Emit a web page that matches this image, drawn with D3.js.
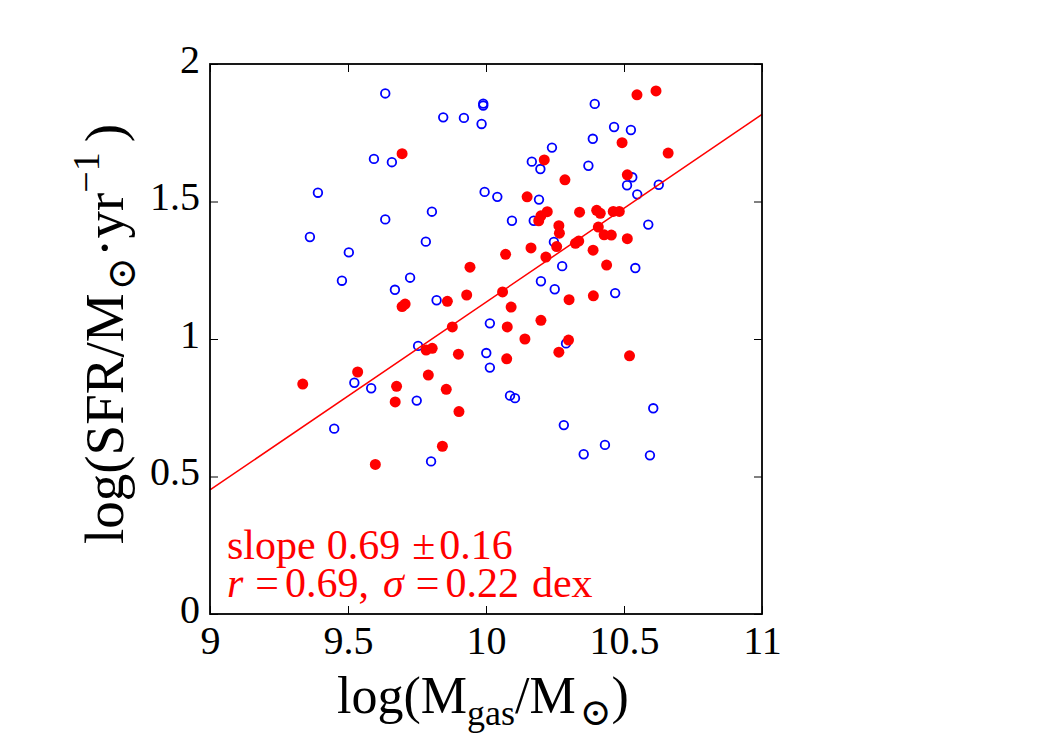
<!DOCTYPE html>
<html>
<head>
<meta charset="utf-8">
<script src="https://cdn.jsdelivr.net/npm/d3@7"></script>
<style>
  html, body { margin: 0; padding: 0; background: #fff; }
  text { font-family: "Liberation Serif", "DejaVu Serif", serif; }
</style>
</head>
<body>
<svg id="chart"></svg>
<script>
// open blue circles
const blueX = [9.635, 9.990, 9.990, 9.845, 9.920, 9.984, 9.594, 9.659, 9.391, 9.995,
  9.804, 9.635, 9.362, 9.782, 9.503, 9.478, 9.725, 9.670, 9.821, 10.014,
  10.394, 10.464, 10.525, 10.387, 10.239, 10.166, 10.197, 10.371, 10.530, 10.511,
  10.548, 10.626, 10.041, 10.192, 10.094, 10.173, 10.588, 10.246, 10.276, 10.541,
  10.199, 10.249, 10.468, 9.754, 9.523, 9.584, 9.450, 9.749, 9.801, 10.001,
  10.014, 10.290, 10.087, 10.105, 10.606, 10.282, 10.431, 10.354, 10.594];
const blueY = [1.893, 1.856, 1.849, 1.806, 1.804, 1.782, 1.655, 1.643, 1.532, 1.535,
  1.463, 1.435, 1.371, 1.354, 1.315, 1.212, 1.223, 1.179, 1.141, 1.057,
  1.855, 1.771, 1.760, 1.728, 1.696, 1.645, 1.618, 1.630, 1.588, 1.559,
  1.526, 1.561, 1.517, 1.507, 1.430, 1.430, 1.416, 1.353, 1.265, 1.258,
  1.210, 1.181, 1.167, 0.975, 0.841, 0.821, 0.674, 0.776, 0.555, 0.949,
  0.896, 0.984, 0.794, 0.785, 0.748, 0.687, 0.615, 0.581, 0.577];

// filled red dots
const redX = [9.696, 9.942, 9.930, 9.860, 9.696, 9.707, 9.878, 10.547, 10.616, 10.493,
  10.660, 10.211, 10.512, 10.286, 10.149, 10.222, 10.199, 10.191, 10.339, 10.401,
  10.414, 10.461, 10.483, 10.264, 10.266, 10.407, 10.428, 10.454, 10.512, 10.324,
  10.336, 10.256, 10.163, 10.388, 10.217, 10.071, 10.437, 10.060, 10.091, 10.199,
  10.077, 10.301, 10.389, 10.141, 10.299, 9.783, 9.805, 9.900, 9.535, 9.336,
  9.676, 9.791, 9.856, 9.671, 9.902, 9.842, 9.599, 10.075, 10.264, 10.520];
const redY = [1.674, 1.261, 1.160, 1.137, 1.118, 1.127, 1.044, 1.888, 1.902, 1.714,
  1.676, 1.651, 1.597, 1.579, 1.517, 1.463, 1.448, 1.430, 1.461, 1.468,
  1.457, 1.464, 1.464, 1.412, 1.385, 1.407, 1.379, 1.378, 1.365, 1.348,
  1.356, 1.336, 1.331, 1.323, 1.298, 1.308, 1.269, 1.171, 1.116, 1.068,
  1.044, 1.143, 1.157, 1.000, 0.996, 0.960, 0.966, 0.945, 0.880, 0.836,
  0.828, 0.869, 0.817, 0.771, 0.736, 0.610, 0.544, 0.928, 0.952, 0.939];

// fit line ends
const fitX = [9, 11];
const fitY = [0.451, 1.817];

const xTicks = [9, 9.5, 10, 10.5, 11];
const yTicks = [0, 0.5, 1, 1.5, 2];
const xTickLabels = ['9', '9.5', '10', '10.5', '11'];
const yTickLabels = ['0', '0.5', '1', '1.5', '2'];

const width = 1050, height = 750;
const plotL = 210, plotR = 762, plotT = 64, plotB = 614;

const svg = d3.select('#chart')
  .attr('width', width)
  .attr('height', height);

const x = d3.scaleLinear().domain([9, 11]).range([plotL, plotR]);
const y = d3.scaleLinear().domain([0, 2]).range([plotB, plotT]);

// ticks on all four sides, pointing inward
const tickLen = 8;
const axisBottom = d3.axisBottom(x).tickValues(xTicks).tickSize(-tickLen).tickFormat((d, i) => xTickLabels[i]).tickPadding(12);
const axisTop = d3.axisTop(x).tickValues(xTicks).tickSize(-tickLen).tickFormat('');
const axisLeft = d3.axisLeft(y).tickValues(yTicks).tickSize(-tickLen).tickFormat((d, i) => yTickLabels[i]).tickPadding(10);
const axisRight = d3.axisRight(y).tickValues(yTicks).tickSize(-tickLen).tickFormat('');

function styleAxis(g) {
  g.select('.domain').remove();
  g.selectAll('.tick line').attr('stroke', '#000').attr('stroke-width', 1);
  g.selectAll('.tick text')
    .attr('fill', '#000')
    .style('font-size', '40px')
    .style('font-family', '"Liberation Serif", "DejaVu Serif", serif');
}

svg.append('g').attr('transform', `translate(0,${plotB})`).call(axisBottom).call(styleAxis)
  .selectAll('.tick text').attr('dy', '0.71em');
svg.append('g').attr('transform', `translate(0,${plotT})`).call(axisTop).call(styleAxis);
svg.append('g').attr('transform', `translate(${plotL},0)`).call(axisLeft).call(styleAxis)
  .selectAll('.tick text').attr('dy', '0.2em');
svg.append('g').attr('transform', `translate(${plotR},0)`).call(axisRight).call(styleAxis);

// blue open circles
svg.append('g')
  .selectAll('circle')
  .data(blueX.map((d, i) => [d, blueY[i]]))
  .enter()
  .append('circle')
  .attr('cx', d => x(d[0]))
  .attr('cy', d => y(d[1]))
  .attr('r', 4.3)
  .attr('fill', 'none')
  .attr('stroke', '#0000ff')
  .attr('stroke-width', 1.8);

// red filled dots
svg.append('g')
  .selectAll('circle')
  .data(redX.map((d, i) => [d, redY[i]]))
  .enter()
  .append('circle')
  .attr('cx', d => x(d[0]))
  .attr('cy', d => y(d[1]))
  .attr('r', 5.5)
  .attr('fill', '#ff0000');

// fit line
const line = d3.line().x(d => x(d[0])).y(d => y(d[1]));
svg.append('path')
  .datum(fitX.map((d, i) => [d, fitY[i]]))
  .attr('d', line)
  .attr('fill', 'none')
  .attr('stroke', '#ff0000')
  .attr('stroke-width', 1.5);

// frame
svg.append('rect')
  .attr('x', plotL).attr('y', plotT)
  .attr('width', plotR - plotL).attr('height', plotB - plotT)
  .attr('fill', 'none')
  .attr('stroke', '#000')
  .attr('stroke-width', 1.8);

// annotation, two lines close together as in the original
const note = svg.append('g').attr('fill', '#ff0000').style('font-size', '42px');
const t1 = note.append('text').attr('x', 227).attr('y', 559);
t1.append('tspan').text('slope');
t1.append('tspan').attr('dx', 11).text('0.69');
t1.append('tspan').attr('dx', 12).text('\u00b1');
t1.append('tspan').attr('dx', 4).text('0.16');
const t2 = note.append('text').attr('x', 227).attr('y', 597);
t2.append('tspan').style('font-style', 'italic').text('r');
t2.append('tspan').attr('dx', 12).text('=');
t2.append('tspan').attr('dx', 6).text('0.69,');
t2.append('tspan').attr('dx', 14).style('font-style', 'italic').text('\u03c3');
t2.append('tspan').attr('dx', 12).text('=');
t2.append('tspan').attr('dx', 6).text('0.22');
t2.append('tspan').attr('dx', 13).text('dex');

// x label
const xl = svg.append('text')
  .attr('x', 483).attr('y', 713)
  .attr('text-anchor', 'middle')
  .style('font-size', '52px');
xl.append('tspan').text('log(M');
xl.append('tspan').attr('dy', 12).style('font-size', '36px').text('gas');
xl.append('tspan').attr('dy', -12).text('/M');
xl.append('tspan').attr('dy', 12).attr('dx', 4).style('font-size', '38px').text('\u2299');
xl.append('tspan').attr('dy', -12).text(')');

// y label
const yl = svg.append('text')
  .attr('transform', 'translate(123,334) rotate(-90)')
  .attr('text-anchor', 'middle')
  .style('font-size', '55px');
yl.append('tspan').text('log(SFR/M');
yl.append('tspan').attr('dy', 12).attr('dx', 3).style('font-size', '40px').text('\u2299');
yl.append('tspan').attr('dy', -12).text('\u00b7yr');
yl.append('tspan').attr('dy', -24).style('font-size', '38px').text('\u22121');
yl.append('tspan').attr('dy', 24).attr('dx', 10).text(')');
</script>
</body>
</html>
